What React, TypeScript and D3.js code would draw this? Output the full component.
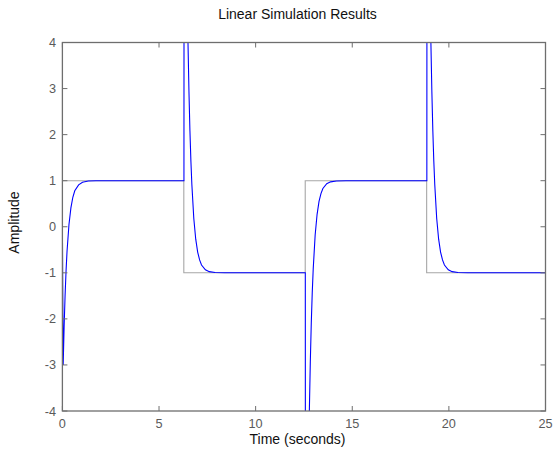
import React from "react";
import * as d3 from "d3";

const xTicks = [0, 5, 10, 15, 20, 25];
const yTicks = [-4, -3, -2, -1, 0, 1, 2, 3, 4];

// Input signal (square wave)
const inputT = [0, 6.283, 6.283, 12.566, 12.566, 18.85, 18.85, 25];
const inputY = [1, 1, -1, -1, 1, 1, -1, -1];

// Simulated response
const respT = [
  0, 0.04, 0.09, 0.14, 0.19, 0.24, 0.34, 0.44, 0.54, 0.64, 0.84, 1.04, 1.34, 1.74, 2.0,
  6.29, 6.3, 6.35, 6.4, 6.45, 6.5, 6.55, 6.6, 6.65, 6.7, 6.8, 6.9, 7.0, 7.1, 7.2, 7.4, 7.6, 7.9, 8.4,
  12.57, 12.58, 12.63, 12.68, 12.73, 12.78, 12.83, 12.88, 12.93, 12.98, 13.08, 13.18, 13.28, 13.38, 13.48, 13.68, 13.88, 14.18, 14.68,
  18.86, 18.87, 18.92, 18.97, 19.02, 19.07, 19.12, 19.17, 19.22, 19.27, 19.37, 19.47, 19.57, 19.67, 19.77, 19.97, 20.17, 20.47, 20.97,
  25,
];
const respY = [
  0, -3, -2.15, -1.48, -0.95, -0.53, 0.05, 0.41, 0.64, 0.78, 0.91, 0.967, 0.992, 0.999, 1,
  1, 12, 9.2, 7.05, 5.33, 3.98, 2.92, 2.08, 1.42, 0.91, 0.18, -0.27, -0.55, -0.72, -0.83, -0.934, -0.975, -0.994, -1,
  -1, -12, -9.2, -7.05, -5.33, -3.98, -2.92, -2.08, -1.42, -0.91, -0.18, 0.27, 0.55, 0.72, 0.83, 0.934, 0.975, 0.994, 1,
  1, 12, 9.2, 7.05, 5.33, 3.98, 2.92, 2.08, 1.42, 0.91, 0.18, -0.27, -0.55, -0.72, -0.83, -0.934, -0.975, -0.994, -1,
  -1,
];

const W = 555;
const H = 450;
const L = 62.4;
const R = 545.5;
const T = 42.5;
const B = 411;

export default function App() {
  const x = d3.scaleLinear().domain([0, 25]).range([L, R]);
  const y = d3.scaleLinear().domain([-4, 4]).range([B, T]);
  const line = d3
    .line<number>()
    .x((_, i) => x(0) + 0 * i)
    .y(() => 0);

  const inputPath = d3
    .line<[number, number]>()
    .x((d) => x(d[0]))
    .y((d) => y(d[1]))(inputT.map((t, i) => [t, inputY[i]]));
  const respPath = d3
    .line<[number, number]>()
    .x((d) => x(d[0]))
    .y((d) => y(d[1]))(respT.map((t, i) => [t, respY[i]]));
  void line;

  const axisColor = "#6e6e6e";
  const labelColor = "#5a5a5a";
  const font = "'Liberation Sans', Arial, Helvetica, sans-serif";
  const tickLen = 5;

  return (
    <svg
      width={W}
      height={H}
      style={{ position: "absolute", left: 0, top: 0, background: "#fff" }}
      fontFamily={font}
    >
      <defs>
        <clipPath id="plotClip">
          <rect x={L} y={T} width={R - L} height={B - T} />
        </clipPath>
      </defs>
      <rect x={0} y={0} width={W} height={H} fill="#fff" />
      <g clipPath="url(#plotClip)">
        <path d={inputPath || ""} fill="none" stroke="#a6a6a6" strokeWidth={1.1} />
        <path d={respPath || ""} fill="none" stroke="#0000ff" strokeWidth={1.1} />
      </g>
      {/* ticks */}
      {xTicks.map((t) => (
        <g key={"xt" + t}>
          <line x1={x(t)} x2={x(t)} y1={B} y2={B - tickLen} stroke={axisColor} strokeWidth={1} />
          <line x1={x(t)} x2={x(t)} y1={T} y2={T + tickLen} stroke={axisColor} strokeWidth={1} />
          <text x={x(t)} y={428} textAnchor="middle" fontSize={12.7} fill={labelColor}>
            {t}
          </text>
        </g>
      ))}
      {yTicks.map((t) => (
        <g key={"yt" + t}>
          <line x1={L} x2={L + tickLen} y1={y(t)} y2={y(t)} stroke={axisColor} strokeWidth={1} />
          <line x1={R} x2={R - tickLen} y1={y(t)} y2={y(t)} stroke={axisColor} strokeWidth={1} />
          <text x={56} y={y(t) + 4.5} textAnchor="end" fontSize={12.7} fill={labelColor}>
            {String(t).replace("\u2212", "-")}
          </text>
        </g>
      ))}
      <rect x={L} y={T} width={R - L} height={B - T} fill="none" stroke={axisColor} strokeWidth={1.3} />
      <text x={297.5} y={19} textAnchor="middle" fontSize={14} fill="#111">
        Linear Simulation Results
      </text>
      <text x={297.5} y={444} textAnchor="middle" fontSize={14} fill="#111">
        Time (seconds)
      </text>
      <text
        transform={`translate(19,222.5) rotate(-90)`}
        textAnchor="middle"
        fontSize={14}
        fill="#111"
      >
        Amplitude
      </text>
    </svg>
  );
}
